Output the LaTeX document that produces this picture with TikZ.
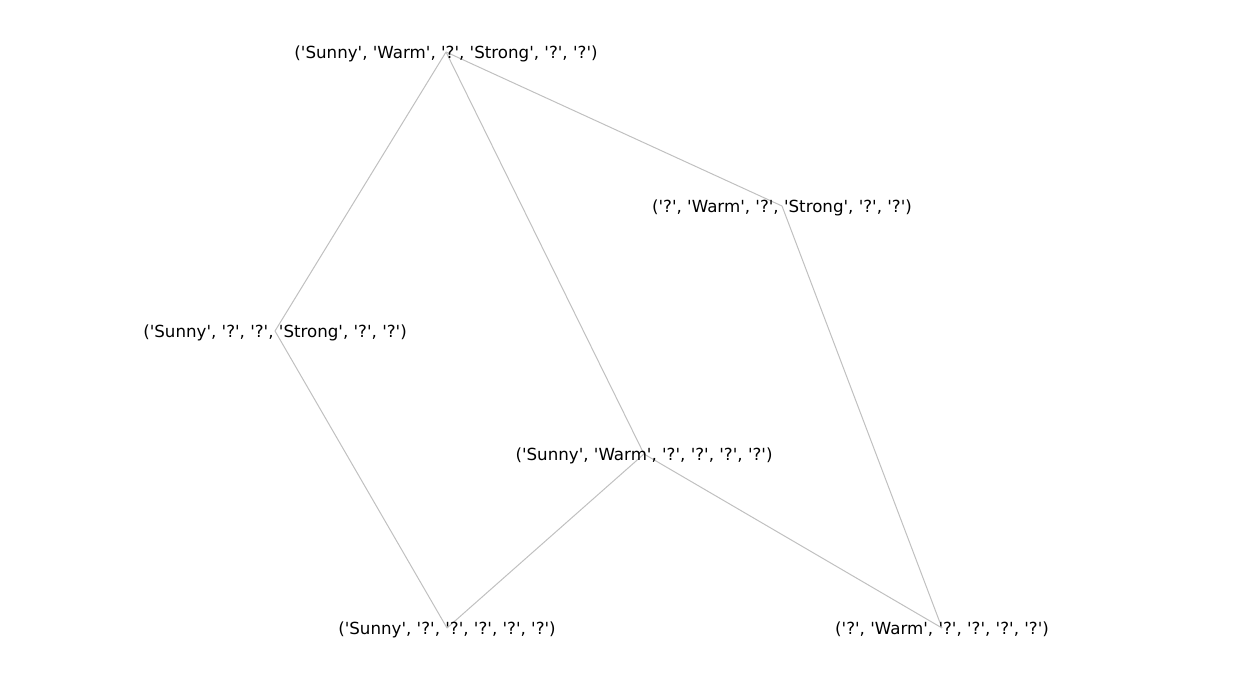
\documentclass[tikz,border=0pt]{standalone}
\usepackage{fontspec}
\setmainfont{DejaVu Sans}[Ligatures=TeXOff]
\begin{document}
\begin{tikzpicture}[x=1pt,y=1pt,
  edge/.style={draw={rgb,255:red,192;green,192;blue,192},line width=1pt},
  lbl/.style={inner sep=0pt,anchor=center,yshift=-1.5pt,font=\fontsize{16.67}{20}\selectfont}]
\useasboundingbox (0,0) rectangle (1249,683);
\coordinate (a) at (446,631);
\coordinate (b) at (782,477);
\coordinate (c) at (275,352);
\coordinate (d) at (644,229);
\coordinate (e) at (447,55);
\coordinate (f) at (942,55);
\draw[edge] (a) -- (c);
\draw[edge] (a) -- (d);
\draw[edge] (a) -- (b);
\draw[edge] (b) -- (f);
\draw[edge] (c) -- (e);
\draw[edge] (d) -- (e);
\draw[edge] (d) -- (f);
\node[lbl] (la) at (a) {('Sunny', 'Warm', '?', 'Strong', '?', '?')};
\node[lbl] (lb) at (b) {('?', 'Warm', '?', 'Strong', '?', '?')};
\node[lbl] (lc) at (c) {('Sunny', '?', '?', 'Strong', '?', '?')};
\node[lbl] (ld) at (d) {('Sunny', 'Warm', '?', '?', '?', '?')};
\node[lbl] (le) at (e) {('Sunny', '?', '?', '?', '?', '?')};
\node[lbl] (lf) at (f) {('?', 'Warm', '?', '?', '?', '?')};
\end{tikzpicture}
\end{document}
